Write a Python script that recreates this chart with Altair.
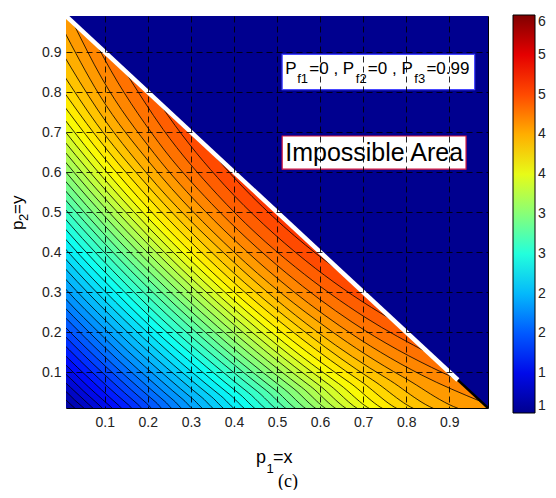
import altair as alt
import pandas as pd

# ---------------- data ----------------
# contour levels that run from the left edge to the bottom edge
levels_edge = [1.1, 1.2, 1.3, 1.4, 1.5, 1.6, 1.7, 1.8, 1.9, 2.0, 2.1, 2.2, 2.3, 2.4, 2.5, 2.6,
               2.7, 2.8, 2.9, 3.0, 3.1, 3.2, 3.3, 3.4, 3.5, 3.6, 3.7, 3.8, 3.9, 4.0, 4.1, 4.2,
               4.3, 4.4, 4.5, 4.6]
# distance p1+p2 at which each contour crosses the rays p1/(p1+p2) = 0, 0.1, 0.25, 0.5
s_ray00 = [0.020, 0.040, 0.061, 0.083, 0.105, 0.127, 0.150, 0.174, 0.198, 0.221, 0.245, 0.269,
           0.293, 0.318, 0.343, 0.368, 0.393, 0.418, 0.443, 0.468, 0.493, 0.517, 0.541, 0.564,
           0.588, 0.612, 0.636, 0.660, 0.685, 0.712, 0.741, 0.773, 0.808, 0.850, 0.900, 0.964]
s_ray10 = [0.020, 0.040, 0.061, 0.082, 0.104, 0.127, 0.149, 0.173, 0.196, 0.219, 0.243, 0.266,
           0.289, 0.313, 0.337, 0.362, 0.386, 0.410, 0.434, 0.458, 0.482, 0.506, 0.529, 0.551,
           0.574, 0.597, 0.619, 0.642, 0.665, 0.689, 0.714, 0.742, 0.771, 0.802, 0.839, 0.880]
s_ray25 = [0.020, 0.040, 0.061, 0.082, 0.104, 0.126, 0.148, 0.171, 0.194, 0.217, 0.240, 0.263,
           0.286, 0.309, 0.332, 0.356, 0.379, 0.402, 0.426, 0.449, 0.472, 0.495, 0.517, 0.538,
           0.560, 0.582, 0.603, 0.625, 0.646, 0.668, 0.690, 0.714, 0.740, 0.767, 0.794, 0.827]
s_ray50 = [0.020, 0.040, 0.060, 0.082, 0.103, 0.125, 0.148, 0.170, 0.193, 0.216, 0.238, 0.261,
           0.283, 0.306, 0.329, 0.352, 0.375, 0.398, 0.420, 0.443, 0.465, 0.488, 0.510, 0.531,
           0.552, 0.573, 0.594, 0.615, 0.635, 0.656, 0.678, 0.699, 0.723, 0.747, 0.774, 0.800]

# contour levels that start and end on the boundary p1+p2 = 1
levels_arc = [4.7, 4.8, 4.9, 5.0, 5.1]
arc_end_x = [0.026, 0.082, 0.146, 0.226, 0.342]
arc_rays = [
    [(0.10, 0.928), (0.25, 0.861), (0.40, 0.835), (0.50, 0.831)],
    [(0.10, 0.983), (0.25, 0.899), (0.40, 0.869), (0.50, 0.864)],
    [(0.25, 0.942), (0.40, 0.905), (0.50, 0.898)],
    [(0.25, 0.988), (0.40, 0.945), (0.50, 0.938)],
    [(0.40, 0.987), (0.50, 0.979)],
]

# plot frame and boundary p1 + p2 = 1 (impossible area above it)
frame_x = [0.0]
frame_x2 = [1.0]
frame_y = [0.0]
frame_y2 = [1.0]
bound_x = [0.01, 0.99]
bound_y = [0.99, 0.01]
bound_top = [0.99, 0.99]
white_x = [0.01, 0.92]
white_y = [0.99, 0.08]

tick_values = [0.1, 0.2, 0.3, 0.4, 0.5, 0.6, 0.7, 0.8, 0.9]
cbar_values = [1, 1.5, 2, 2.5, 3, 3.5, 4, 4.5, 5, 5.5, 6]

jet = ["#00008F", "#000DFF", "#008BFF", "#0AFFF5", "#87FF78",
       "#FFFA00", "#FF7C00", "#FE0000", "#800000"]

# annotation boxes and texts
box_x = [0.512, 0.512]
box_x2 = [0.959, 0.939]
box_y = [0.806, 0.607]
box_y2 = [0.894, 0.690]
box_stroke = ["#4646ff", "#d2143c"]

main_text = ["P", "=0 , P", "=0 , P", "=0.99"]
main_x = [0.519, 0.575, 0.711, 0.847]
sub_text = ["f1", "f2", "f3"]
sub_x = [0.547, 0.683, 0.819]
main_y = 0.846
sub_y = 0.823

area_text = ["Impossible Area"]
area_x = [0.7256]
area_y = [0.628]

# axis titles (with subscripts) and caption
xt_text = ["p", "=x"]
xt_x = [0.451, 0.4907]
xt_y = [-0.1275, -0.1275]
xt_sub = ["1"]
xt_sub_x = [0.4756]
xt_sub_y = [-0.153]
yt_text = ["p", "=y"]
yt_x = [-0.090, -0.090]
yt_y = [0.455, 0.495]
yt_sub = ["2"]
yt_sub_x = [-0.078]
yt_sub_y = [0.4775]
cap_text = ["(c)"]
cap_x = [0.5256]
cap_y = [-0.188]

# ---------------- tables ----------------
pts = []
for k, L in enumerate(levels_edge):
    path = [(0.0, s_ray00[k]),
            (0.10 * s_ray10[k], 0.90 * s_ray10[k]),
            (0.25 * s_ray25[k], 0.75 * s_ray25[k]),
            (0.50 * s_ray50[k], 0.50 * s_ray50[k]),
            (0.75 * s_ray25[k], 0.25 * s_ray25[k]),
            (0.90 * s_ray10[k], 0.10 * s_ray10[k]),
            (s_ray00[k], 0.0),
            (1.0, 0.0)]
    for o, (px, py) in enumerate(path):
        pts.append({"level": L, "o": o, "x": px, "y": py, "top": 1.0})
for k, L in enumerate(levels_arc):
    xe = arc_end_x[k]
    path = [(xe, 1 - xe)]
    path += [(f * s, (1 - f) * s) for f, s in arc_rays[k]]
    path += [((1 - f) * s, f * s) for f, s in reversed(arc_rays[k]) if f != 0.5]
    path += [(1 - xe, xe)]
    for o, (px, py) in enumerate(path):
        pts.append({"level": L, "o": o, "x": px, "y": py, "top": 1.0})
contours = pd.DataFrame(pts)

frame = pd.DataFrame({"x": frame_x, "x2": frame_x2, "y": frame_y, "y2": frame_y2})
bound = pd.DataFrame({"x": bound_x, "y": bound_y, "y2": bound_top})
white = pd.DataFrame({"x": white_x, "y": white_y})
boxes = pd.DataFrame({"x": box_x, "x2": box_x2, "y": box_y, "y2": box_y2, "c": box_stroke})
mains = pd.DataFrame({"x": main_x, "y": [main_y] * len(main_x), "t": main_text})
subs = pd.DataFrame({"x": sub_x, "y": [sub_y] * len(sub_x), "t": sub_text})
area_lbl = pd.DataFrame({"x": area_x, "y": area_y, "t": area_text})
xt = pd.DataFrame({"x": xt_x, "y": xt_y, "t": xt_text})
xts = pd.DataFrame({"x": xt_sub_x, "y": xt_sub_y, "t": xt_sub})
yt = pd.DataFrame({"x": yt_x, "y": yt_y, "t": yt_text})
yts = pd.DataFrame({"x": yt_sub_x, "y": yt_sub_y, "t": yt_sub})
cap = pd.DataFrame({"x": cap_x, "y": cap_y, "t": cap_text})

FONT = "Liberation Sans"
xs = alt.Scale(domain=[0.01, 0.99], nice=False, zero=False)
ys = alt.Scale(domain=[0.01, 0.99], nice=False, zero=False)

def make_axis(pad):
    return alt.Axis(values=tick_values, format=".1f", title=None, grid=True,
                    gridDash=[6, 4], gridColor="black", gridOpacity=0.85,
                    ticks=False, domain=False, labelFont=FONT, labelFontSize=14,
                    labelColor="#222222", labelPadding=pad, zindex=1)

X = alt.X("x:Q", scale=xs, axis=make_axis(7))
Y = alt.Y("y:Q", scale=ys, axis=make_axis(5))

cscale = alt.Scale(domain=[1, 6], range=jet, interpolate="rgb")
legend = alt.Legend(
    type="gradient", title=None, orient="none", legendX=447, legendY=-1,
    direction="vertical", gradientLength=398, gradientThickness=22,
    values=cbar_values, labelExpr="'' + floor(datum.value)", labelFont=FONT,
    labelFontSize=14, labelColor="#222222", labelOffset=3, labelOverlap=False,
    gradientStrokeColor="black", gradientStrokeWidth=1, labelBaseline="middle")

background = alt.Chart(frame).mark_rect(color="#00008F", clip=True).encode(
    x=X, x2="x2:Q", y=Y, y2="y2:Q")

# one filled layer per contour level, painted from the lowest level up
band_layers = []
for L in levels_edge + levels_arc:
    band_layers.append(
        alt.Chart(contours).transform_filter(alt.datum.level == L)
        .mark_area(interpolate="monotone", clip=True, opacity=1)
        .encode(x=X, y=Y, y2=alt.Y2("top"),
                fill=alt.Fill("level:Q", scale=cscale, legend=legend))
    )

lines = alt.Chart(contours).mark_line(interpolate="monotone", clip=True, color="black",
                                      strokeWidth=0.8).encode(
    x=X, y=Y, detail="level:N")

impossible = alt.Chart(bound).mark_area(color="#00008F", clip=True).encode(x=X, y=Y, y2="y2:Q")
edge = alt.Chart(bound).mark_line(color="black", strokeWidth=2.5, clip=True).encode(x=X, y=Y)
white_edge = alt.Chart(white).mark_line(color="white", strokeWidth=4.5, clip=True).encode(x=X, y=Y)

box = alt.Chart(boxes).mark_rect(fill="white", strokeWidth=1.2).encode(
    x=X, x2="x2:Q", y=Y, y2="y2:Q", stroke=alt.Stroke("c:N", scale=None))

def txt(df, size, font=FONT, angle=0, align="left"):
    return alt.Chart(df).mark_text(align=align, baseline="alphabetic", font=font,
                                   fontSize=size, color="black", angle=angle).encode(
        x=X, y=Y, text="t:N")

layers = [background] + band_layers + [
    lines, impossible, edge, white_edge, box,
    txt(mains, 17), txt(subs, 13), txt(area_lbl, 25, align="center"),
    txt(xt, 18), txt(xts, 13),
    txt(yt, 17, angle=270), txt(yts, 13, angle=270),
    txt(cap, 18, font="Liberation Serif", align="center"),
]

chart = alt.layer(*layers).properties(
    width=422, height=392,
    autosize=alt.AutoSizeParams(type="none"),
    padding={"left": 58, "top": 8, "right": 60, "bottom": 82},
).configure_view(stroke="black", strokeWidth=1)

chart.save("out.html", embed_options={"renderer": "svg", "actions": False})
